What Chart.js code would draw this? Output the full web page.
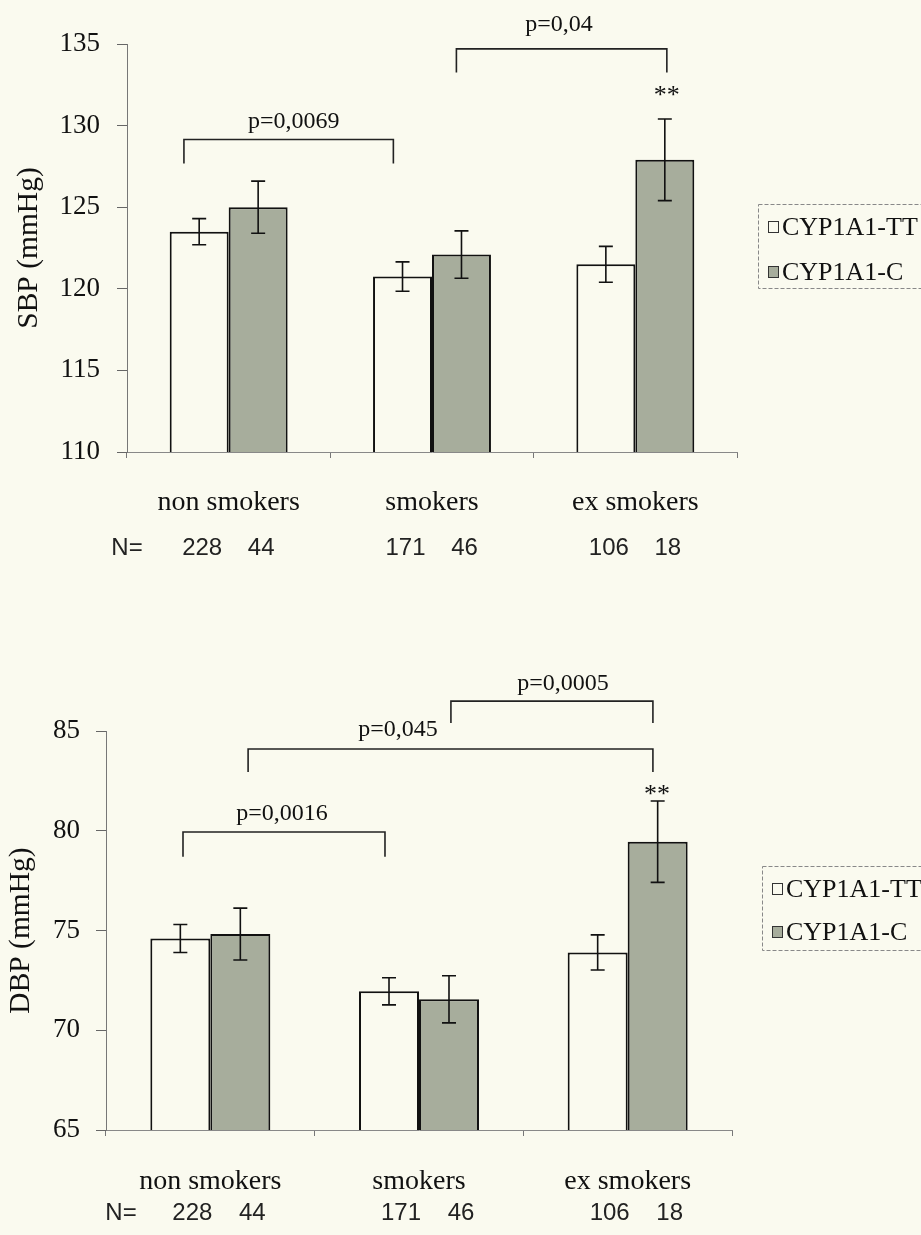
<!DOCTYPE html>
<html>
<head>
<meta charset="utf-8">
<script src="https://cdn.jsdelivr.net/npm/chart.js@4.4.1/dist/chart.umd.min.js"></script>
<style>
  body { margin: 0; background: #fafaef; }
  canvas { display: block; }
</style>
</head>
<body>
<canvas id="sbpChart" width="921" height="600"></canvas>
<canvas id="dbpChart" width="921" height="635"></canvas>
<script>
const categories = ["non smokers", "smokers", "ex smokers"];
const genotypes = ["CYP1A1-TT", "CYP1A1-C"];
const countsTT = [228, 171, 106];
const countsC = [44, 46, 18];

const sbpTicks = [110, 115, 120, 125, 130, 135];
const sbpTT = [123.5, 120.75, 121.5];
const sbpTTErr = [0.8, 0.9, 1.1];
const sbpC = [125.0, 122.1, 127.9];
const sbpCErr = [1.6, 1.45, 2.5];

const dbpTicks = [65, 70, 75, 80, 85];
const dbpTT = [74.6, 71.95, 73.9];
const dbpTTErr = [0.7, 0.68, 0.88];
const dbpC = [74.82, 71.55, 79.45];
const dbpCErr = [1.3, 1.18, 2.04];

const serif = '"Liberation Serif", "Times New Roman", serif';
const sans = '"Liberation Sans", Arial, sans-serif';
const bg = "#fafaef";
const grey = "#a7ad9c";

// error bars, significance brackets, N row and the boxed legend
const extras = {
  id: "extras",
  afterDatasetsDraw(chart) {
    const { ctx } = chart;
    const y = chart.scales.y;
    ctx.save();
    ctx.strokeStyle = "#111";
    ctx.lineWidth = 1.6;
    chart.data.datasets.forEach((ds, di) => {
      chart.getDatasetMeta(di).data.forEach((bar, i) => {
        const hi = y.getPixelForValue(ds.data[i] + ds.errors[i]);
        const lo = y.getPixelForValue(ds.data[i] - ds.errors[i]);
        ctx.beginPath();
        ctx.moveTo(bar.x, hi); ctx.lineTo(bar.x, lo);
        ctx.moveTo(bar.x - 7, hi); ctx.lineTo(bar.x + 7, hi);
        ctx.moveTo(bar.x - 7, lo); ctx.lineTo(bar.x + 7, lo);
        ctx.stroke();
      });
    });
    ctx.restore();
  },
  afterDraw(chart, args, opts) {
    const { ctx, chartArea } = chart;
    const x = chart.scales.x;
    const y = chart.scales.y;
    ctx.save();
    ctx.strokeStyle = "#222";
    ctx.lineWidth = 1.6;
    ctx.fillStyle = "#111";
    ctx.textAlign = "center";
    ctx.textBaseline = "middle";
    ctx.font = "24px " + serif;
    opts.brackets.forEach(b => {
      const x1 = x.getPixelForValue(b.from);
      const x2 = x.getPixelForValue(b.to);
      const yt = y.getPixelForValue(b.top);
      const yl = y.getPixelForValue(b.leg);
      ctx.beginPath();
      ctx.moveTo(x1, yl); ctx.lineTo(x1, yt); ctx.lineTo(x2, yt); ctx.lineTo(x2, yl);
      ctx.stroke();
      ctx.fillText(b.text, x.getPixelForValue(b.textX), y.getPixelForValue(b.textY));
    });
    ctx.font = "26px " + serif;
    opts.stars.forEach(s => {
      ctx.fillText(s.text, x.getPixelForValue(s.x), y.getPixelForValue(s.y));
    });

    // N row
    const n = opts.counts;
    ctx.font = "24px " + sans;
    ctx.fillStyle = "#222";
    ctx.fillText("N=", chartArea.left + n.labelShift, n.y);
    chart.data.datasets.forEach((ds, di) => {
      chart.getDatasetMeta(di).data.forEach((bar, i) => {
        ctx.fillText(String(ds.counts[i]), bar.x + n.shift, n.y);
      });
    });

    // legend
    const lg = opts.legend;
    ctx.strokeStyle = "#888";
    ctx.lineWidth = 1;
    ctx.setLineDash([4, 2]);
    ctx.strokeRect(lg.left + 0.5, lg.top + 0.5, 220, lg.height);
    ctx.setLineDash([]);
    ctx.font = "26px " + serif;
    ctx.textAlign = "left";
    chart.data.datasets.forEach((ds, i) => {
      const cy = lg.top + lg.first + i * lg.gap;
      ctx.fillStyle = ds.backgroundColor;
      ctx.fillRect(lg.left + 10, cy - 6, 11, 12);
      ctx.strokeStyle = "#333";
      ctx.strokeRect(lg.left + 10.5, cy - 5.5, 10, 11);
      ctx.fillStyle = "#111";
      ctx.fillText(ds.label, lg.left + 24, cy + 1);
    });
    ctx.restore();
  }
};

const makeChart = (id, cfg) => {
  return new Chart(document.getElementById(id), {
    type: "bar",
    data: {
      labels: categories,
      datasets: [
        {
          label: genotypes[0],
          data: cfg.tt,
          errors: cfg.ttErr,
          counts: countsTT,
          backgroundColor: bg,
          borderColor: "#111",
          borderWidth: 2
        },
        {
          label: genotypes[1],
          data: cfg.c,
          errors: cfg.cErr,
          counts: countsC,
          backgroundColor: grey,
          borderColor: "#111",
          borderWidth: 2
        }
      ]
    },
    options: {
      responsive: false,
      animation: false,
      events: [],
      layout: { padding: { top: cfg.top, right: cfg.right, bottom: 0, left: 0 } },
      datasets: { bar: { categoryPercentage: cfg.catPct, barPercentage: 1 } },
      scales: {
        x: {
          afterFit: s => { s.height = cfg.xHeight; },
          grid: { offset: true, drawOnChartArea: false, tickLength: 6, color: "#777" },
          border: { color: "#888", width: 1 },
          ticks: { color: "#111", padding: cfg.labelPad, font: { family: serif, size: 28 } }
        },
        y: {
          min: cfg.ticks[0],
          max: cfg.ticks[cfg.ticks.length - 1],
          afterFit: s => { s.width = cfg.yWidth; },
          afterBuildTicks: s => { s.ticks = cfg.ticks.map(v => ({ value: v })); },
          grid: { drawOnChartArea: false, tickLength: 10, color: "#666" },
          border: { color: "#777", width: 1 },
          ticks: { color: "#111", padding: cfg.tickPad, font: { family: serif, size: 27 } },
          title: {
            display: true,
            text: cfg.title,
            color: "#111",
            padding: { top: cfg.titlePad },
            font: { family: serif, size: 29.5 }
          }
        }
      },
      plugins: {
        legend: { display: false },
        tooltip: { enabled: false },
        extras: cfg.extras
      }
    },
    plugins: [extras]
  });
};

makeChart("sbpChart", {
  tt: sbpTT, ttErr: sbpTTErr, c: sbpC, cErr: sbpCErr, ticks: sbpTicks,
  title: "SBP (mmHg)",
  top: 44, right: 184, xHeight: 148, yWidth: 127, catPct: 0.58,
  labelPad: 28, tickPad: 17, titlePad: 12,
  extras: {
    brackets: [
      { from: -0.22, to: 0.81, top: 129.15, leg: 127.68, text: "p=0,0069", textX: 0.32, textY: 130.25 },
      { from: 1.12, to: 2.155, top: 134.7, leg: 133.25, text: "p=0,04", textX: 1.625, textY: 136.2 }
    ],
    stars: [{ text: "**", x: 2.155, y: 131.8 }],
    counts: { y: 548, labelShift: 0, shift: 3 },
    legend: { left: 758, top: 204, height: 84, first: 23, gap: 45 }
  }
});

makeChart("dbpChart", {
  tt: dbpTT, ttErr: dbpTTErr, c: dbpC, cErr: dbpCErr, ticks: dbpTicks,
  title: "DBP (mmHg)",
  top: 131, right: 189, xHeight: 105, yWidth: 106, catPct: 0.575,
  labelPad: 29, tickPad: 16, titlePad: 4,
  extras: {
    brackets: [
      { from: -0.131, to: 0.837, top: 79.94, leg: 78.7, text: "p=0,0016", textX: 0.343, textY: 80.85 },
      { from: 0.181, to: 2.121, top: 84.1, leg: 82.95, text: "p=0,045", textX: 0.899, textY: 85.05 },
      { from: 1.153, to: 2.121, top: 86.5, leg: 85.4, text: "p=0,0005", textX: 1.69, textY: 87.35 }
    ],
    stars: [{ text: "**", x: 2.14, y: 81.8 }],
    counts: { y: 613, labelShift: 15, shift: 12 },
    legend: { left: 762, top: 266, height: 84, first: 23, gap: 43 }
  }
});
</script>
</body>
</html>
